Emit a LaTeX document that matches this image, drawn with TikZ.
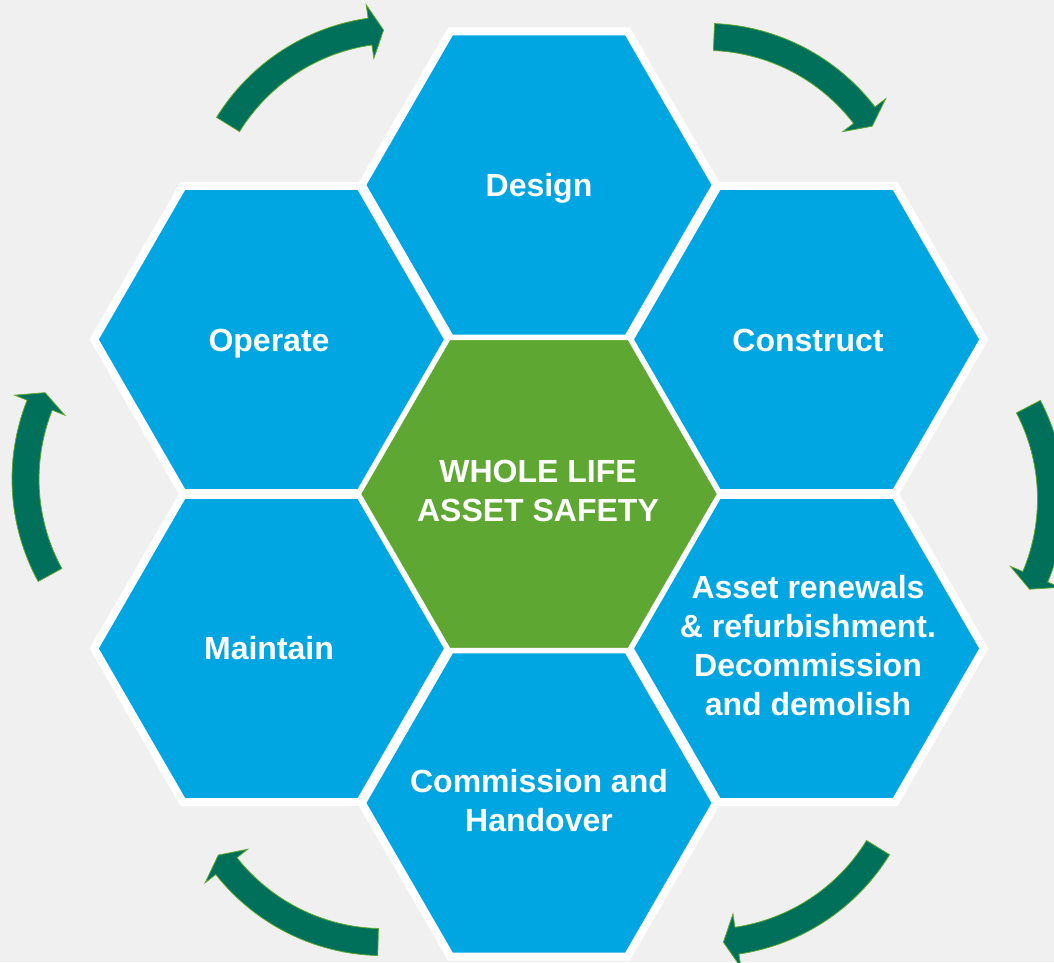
\documentclass[tikz,border=0pt]{standalone}
\usepackage{fontspec}
\setmainfont{Liberation Sans}
\usetikzlibrary{calc}
\definecolor{bgc}{HTML}{F0F0F0}
\definecolor{hexblue}{HTML}{00A6E1}
\definecolor{hexgreen}{HTML}{5FA733}
\definecolor{cyclegreen}{HTML}{00705A}
\newcommand\hexat[3]{%
  \path[#3] ($(#1)+(0:#2)$) -- ($(#1)+(60:#2)$) -- ($(#1)+(120:#2)$) -- ($(#1)+(180:#2)$) -- ($(#1)+(240:#2)$) -- ($(#1)+(300:#2)$) -- cycle;}
% #1 arc centre, #2 tail angle, #3 head-base angle (clockwise arc, radius 200)
\newcommand\cyclearrow[3]{%
  \path[cyclearr] ($(#1)+({#2}:213.5)$) arc[start angle={#2}, end angle={#3}, radius=213.5]
    -- ($(#1)+({#3}:227)$) -- ($(#1)+({#3-3.9}:200)$) -- ($(#1)+({#3}:173)$)
    -- ($(#1)+({#3}:186.5)$) arc[start angle={#3}, end angle={#2}, radius=186.5] -- cycle;}
\begin{document}
\begin{tikzpicture}[x=1pt,y=1pt,
  bluehex/.style={fill=hexblue, draw=white, line width=8pt, line join=miter},
  greenhex/.style={fill=hexgreen, draw=white, line width=5pt, line join=miter},
  cyclearr/.style={fill=cyclegreen, draw=hexgreen, line width=0.8pt, line join=miter},
  lbl/.style={text=white, font=\bfseries\fontsize{32}{39}\selectfont, align=center, inner sep=0pt}]
\useasboundingbox (0,0) rectangle (1054,962);
\clip (0,0) rectangle (1054,962);
\fill[bgc] (0,0) rectangle (1054,962);
% centres
\coordinate (cC) at (539,468);
\coordinate (cD) at (539,777);
\coordinate (cCo) at (806.6,622.5);
\coordinate (cA) at (806.6,313.5);
\coordinate (cCm) at (539,159);
\coordinate (cM) at (271.4,313.5);
\coordinate (cO) at (271.4,622.5);
% hexagons
\hexat{cD}{177.25}{bluehex}
\hexat{cCo}{177.25}{bluehex}
\hexat{cA}{177.25}{bluehex}
\hexat{cCm}{177.25}{bluehex}
\hexat{cM}{177.25}{bluehex}
\hexat{cO}{177.25}{bluehex}
\hexat{cC}{180.7}{greenhex}
% labels
\node[lbl] (design) at (539,773.6) {Design};
\node[lbl] (operate) at (269,618.6) {Operate};
\node[lbl] (construct) at (808,622) {Construct};
\node[lbl] (maintain) at (269,314) {Maintain};
\node[lbl] (whole) at (538,471) {WHOLE LIFE\\ASSET SAFETY};
\node[lbl] (asset) at (808,316) {Asset renewals\\\& refurbishment.\\Decommission\\and demolish};
\node[lbl] (commission) at (539,161.5) {Commission and\\Handover};
% cycle arrows
\cyclearrow{398.2,732.4}{148.3}{98.1}
\cyclearrow{705.6,725.1}{87.6}{37.5}
\cyclearrow{851,463}{27.5}{-22.9}
\cyclearrow{707.7,219.2}{-31.6}{-81.6}
\cyclearrow{383.3,219.9}{268.5}{218.3}
\cyclearrow{225.5,482.9}{208.65}{158.3}
\end{tikzpicture}
\end{document}
